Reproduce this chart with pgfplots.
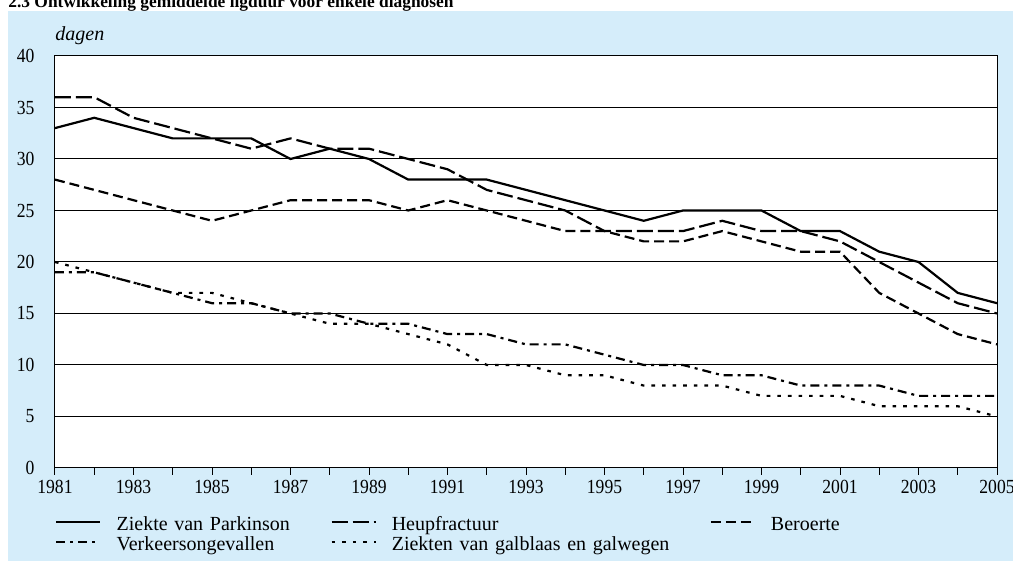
\documentclass[border=0pt]{standalone}
\usepackage{fontspec}
\setmainfont{Liberation Serif}
\newfontfamily\numfont{Liberation Serif}[FakeStretch=0.88]
\usepackage{pgfplots}
\usepackage{pgfplotstable}
\pgfplotsset{compat=1.18}

\definecolor{panelblue}{RGB}{213,237,250}

% gemiddelde ligduur (dagen)
\pgfplotstableread{
year par heup ber verk gal
1981 33 36 28 19 20
1982 34 36 27 19 19
1983 33 34 26 18 18
1984 32 33 25 17 17
1985 32 32 24 16 17
1986 32 31 25 16 16
1987 30 32 26 15 15
1988 31 31 26 15 14
1989 30 31 26 14 14
1990 28 30 25 14 13
1991 28 29 26 13 12
1992 28 27 25 13 10
1993 27 26 24 12 10
1994 26 25 23 12 9
1995 25 23 23 11 9
1996 24 23 22 10 8
1997 25 23 22 10 8
1998 25 24 23 9 8
1999 25 23 22 9 7
2000 23 23 21 8 7
2001 23 22 21 8 7
2002 21 20 17 8 6
2003 20 18 15 7 6
2004 17 16 13 7 6
2005 16 15 12 7 5
}\ligduur

\begin{document}
\begin{tikzpicture}
  \fill[panelblue] (-23.5pt,-46.5pt) rectangle (479pt,228.5pt);
  \node[anchor=base west, inner sep=0pt, font=\bfseries\fontsize{8.7}{10}\selectfont]
    at (-23.5pt,230pt) {2.3 Ontwikkeling gemiddelde ligduur voor enkele diagnosen};
  \node[anchor=base west, inner sep=0pt, font=\itshape] at (0pt,213.5pt) {dagen};

  \begin{axis}[
    at={(0,0)}, anchor=south west,
    width=471pt, height=206pt, scale only axis,
    xmin=1981, xmax=2005, ymin=0, ymax=40,
    xtick={1981,1983,...,2005},
    minor xtick={1982,1984,...,2004},
    ytick={0,5,...,40},
    xtick pos=bottom,
    tick align=outside,
    major tick length=3.5pt, minor tick length=3.5pt,
    tick style={black, line width=0.5pt},
    ytick style={draw=none},
    ymajorgrids,
    major grid style={black, line width=0.5pt},
    axis line style={black, line width=0.5pt},
    axis background/.style={fill=white},
    /pgf/number format/assume math mode=true,
    /pgf/number format/set thousands separator={},
    every tick label/.append style={font=\numfont},
    yticklabel style={xshift=-3.2pt},
    xticklabel style={yshift=0.8pt},
    no marks,
    every axis plot/.append style={black, line width=1.1pt},
    legend columns=3,
    legend cell align=left,
    legend image code/.code={\draw[#1] (0pt,1.5pt) -- (22pt,1.5pt);},
    legend style={
      at={(axis description cs:0,0)}, anchor=north west, yshift=-24pt,
      draw=none, fill=none, inner sep=0pt,
      nodes={inner sep=0pt, text height=7pt, text depth=2pt},
      row sep=1pt,
      /tikz/every odd column/.append style={column sep=7.5pt},
      /tikz/column 2/.style={column sep=7pt, nodes={text width=100pt}},
      /tikz/column 4/.style={column sep=9pt, nodes={text width=150pt}},
    },
  ]
    \addplot[solid] table[x=year, y=par] {\ligduur};
    \addlegendentry{Ziekte van Parkinson}
    \addplot[dash pattern=on 8pt off 2.5pt] table[x=year, y=heup] {\ligduur};
    \addlegendentry{Heupfractuur}
    \addplot[dash pattern=on 5pt off 2.5pt] table[x=year, y=ber] {\ligduur};
    \addlegendentry{Beroerte}
    \addplot[dash pattern=on 4.5pt off 2.5pt on 1.5pt off 2.5pt] table[x=year, y=verk] {\ligduur};
    \addlegendentry{Verkeersongevallen}
    \addplot[dash pattern=on 1.8pt off 3.5pt] table[x=year, y=gal] {\ligduur};
    \addlegendentry{Ziekten van galblaas en galwegen}
  \end{axis}

  \pgfresetboundingbox
  \path[use as bounding box] (-27.5pt,-46.5pt) rectangle (479pt,234pt);
\end{tikzpicture}
\end{document}
